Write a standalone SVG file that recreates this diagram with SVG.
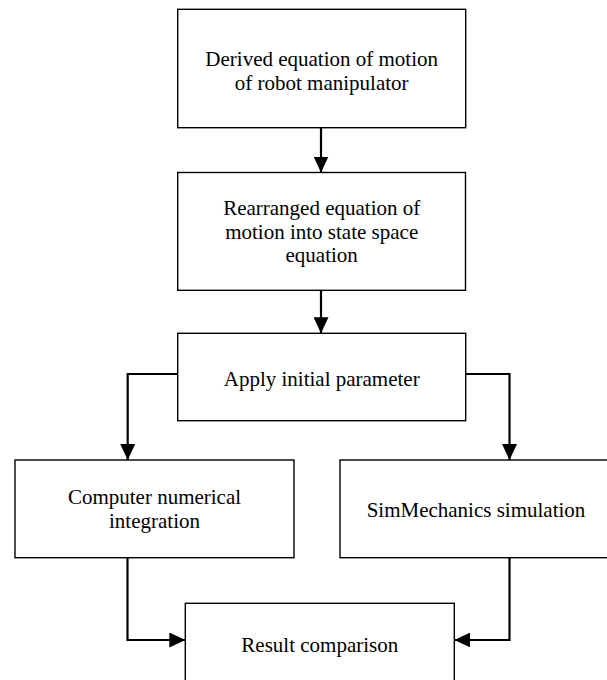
<svg xmlns="http://www.w3.org/2000/svg" width="607" height="680" viewBox="0 0 607 680">
<defs>
<style>
.box{fill:#fff;stroke:#000;stroke-width:1.4}
.lbl{font-family:'Liberation Serif',serif;font-size:21px;fill:#000;text-anchor:middle}
.con{fill:none;stroke:#000;stroke-width:2.2}
</style>
<marker id="ah" markerUnits="userSpaceOnUse" markerWidth="16" markerHeight="15" refX="16" refY="7.5" orient="auto">
<path d="M0,0 L16,7.5 L0,15 z" fill="#000"/>
</marker>
</defs>
<rect width="607" height="680" fill="#fff"/>
<g id="n1">
<rect class="box" x="177.7" y="9.3" width="288" height="118.4"/>
<text class="lbl" font-family="Liberation Serif, serif" x="321.7" y="66">Derived equation of motion</text>
<text class="lbl" font-family="Liberation Serif, serif" x="321.7" y="90">of robot manipulator</text>
</g>
<g id="n2">
<rect class="box" x="177.7" y="172.5" width="287.8" height="117.8"/>
<text class="lbl" font-family="Liberation Serif, serif" x="321.7" y="215">Rearranged equation of</text>
<text class="lbl" font-family="Liberation Serif, serif" x="321.7" y="238.5">motion into state space</text>
<text class="lbl" font-family="Liberation Serif, serif" x="321.7" y="262">equation</text>
</g>
<g id="n3">
<rect class="box" x="177.7" y="333.3" width="288" height="87.4"/>
<text class="lbl" font-family="Liberation Serif, serif" x="321.7" y="386">Apply initial parameter</text>
</g>
<g id="n4">
<rect class="box" x="15" y="460" width="279" height="97.7"/>
<text class="lbl" font-family="Liberation Serif, serif" x="154.5" y="504">Computer numerical</text>
<text class="lbl" font-family="Liberation Serif, serif" x="154.5" y="528">integration</text>
</g>
<g id="n5">
<rect class="box" x="340" y="460" width="272" height="97.7"/>
<text class="lbl" font-family="Liberation Serif, serif" x="476" y="516.5">SimMechanics simulation</text>
</g>
<g id="n6">
<rect class="box" x="185.3" y="603.3" width="269" height="90"/>
<text class="lbl" font-family="Liberation Serif, serif" x="319.8" y="651.5">Result comparison</text>
</g>
<g id="connectors">
<path class="con" d="M321,127.7 V172.5" marker-end="url(#ah)"/>
<path class="con" d="M321,290.3 V333.3" marker-end="url(#ah)"/>
<path class="con" d="M177.7,374 H127.7 V460" marker-end="url(#ah)"/>
<path class="con" d="M465.7,374 H509.5 V460" marker-end="url(#ah)"/>
<path class="con" d="M127.5,557.7 V640 H185.3" marker-end="url(#ah)"/>
<path class="con" d="M509.5,557.7 V640 H454.3" marker-end="url(#ah)"/>
</g>
</svg>
